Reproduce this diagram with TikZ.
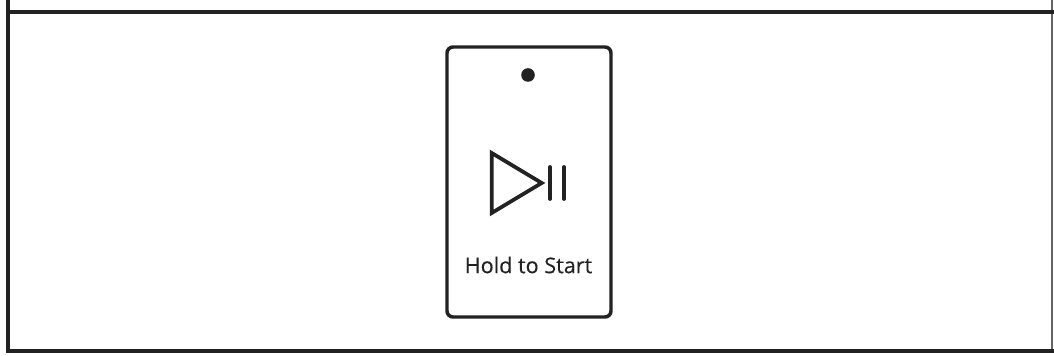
\documentclass[tikz,border=0pt]{standalone}
\usepackage{fontspec}
\setmainfont{Open Sans}
\definecolor{ink}{HTML}{222222}
\tikzset{
  x=0.75pt,y=-0.75pt,
  frameline/.style={draw=ink,line width=3pt},
  cardbox/.style={draw=ink,line width=2.6pt,rounded corners=4.5pt,fill=white,inner sep=0pt,minimum width=123pt,minimum height=202.5pt},
  icon/.style={draw=ink,line width=2.8pt,line join=miter},
  label/.style={font=\fontsize{16.2pt}{18pt}\selectfont,text=ink,inner sep=0pt}
}
\begin{document}
\begin{tikzpicture}
\useasboundingbox (0,0) rectangle (1054,356);
\fill[white] (0,0) rectangle (1054,356);
\coordinate (tl) at (8,0); \coordinate (bl) at (8,353);
\coordinate (tr) at (1052,0); \coordinate (br) at (1052,351);
\coordinate (ta) at (8,12); \coordinate (tb) at (1054,12);
\coordinate (ba) at (6,351) ; \coordinate (bb) at (1054,351);
\draw[draw=ink!70,line width=1.8pt] (tr) -- (br);
\draw[frameline] (tl) -- (bl);
\draw[frameline] (ta) -- (tb);
\draw[frameline] (ba) -- (bb);
\node[cardbox] (card) at (529,182) {};
\node[circle,fill=ink,inner sep=0pt,minimum size=10.2pt] (dot) at (528,75) {};
\draw[icon] (491.7,153) -- (541.7,183) -- (491.7,213) -- cycle;
\draw[icon,line cap=round] (550,167) -- (550,199);
\draw[icon,line cap=round] (564,167) -- (564,199);
\node[label] (txt) at (528.5,265) {\addfontfeature{FakeBold=0.25}Hold to Start};
\end{tikzpicture}
\end{document}
